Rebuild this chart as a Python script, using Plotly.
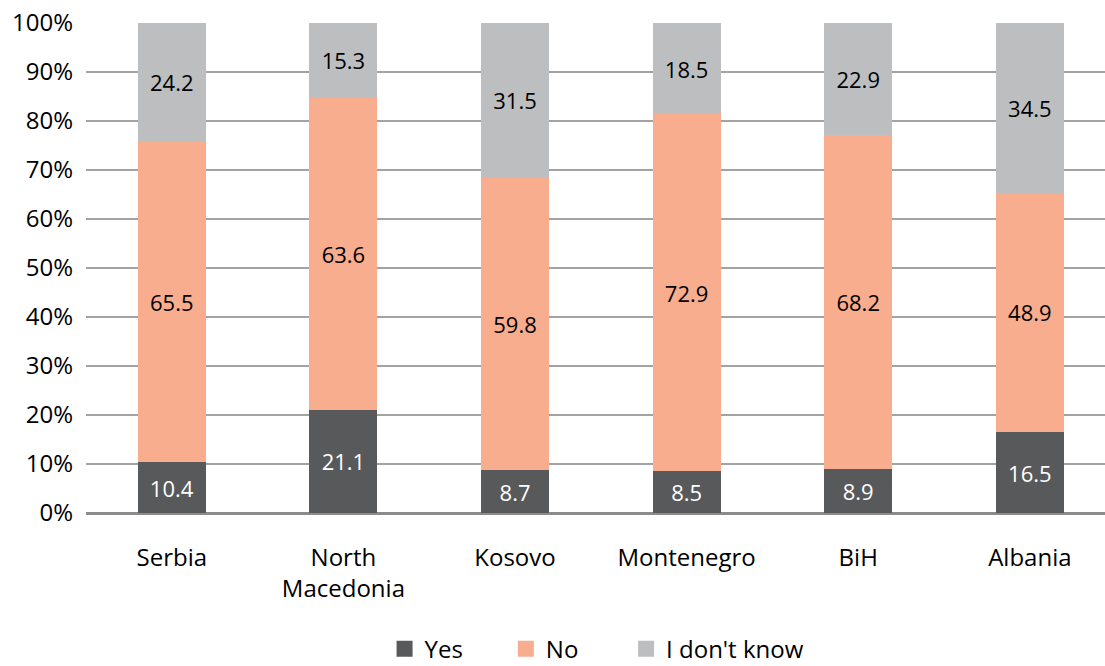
import plotly.graph_objects as go

countries = ["Serbia", "North<br>Macedonia", "Kosovo", "Montenegro", "BiH", "Albania"]
yes = [10.4, 21.1, 8.7, 8.5, 8.9, 16.5]
no = [65.5, 63.6, 59.8, 72.9, 68.2, 48.9]
dont_know = [24.2, 15.3, 31.5, 18.5, 22.9, 34.5]
y_ticks = [0, 10, 20, 30, 40, 50, 60, 70, 80, 90, 100]

FONT = "Open Sans"
FS = 24
FS_BAR = 22
series = [
    ("Yes", yes, "#58595b", "white"),
    ("No", no, "#f8ad8f", "black"),
    ("I don't know", dont_know, "#bcbec0", "black"),
]
legend_ids = ["legend", "legend2", "legend3"]
legend_x = [0.293, 0.412, 0.530]

fig = go.Figure()
for name, vals, color, tcolor in series:
    fig.add_trace(go.Bar(
        x=countries, y=vals, name=name, showlegend=False,
        marker=dict(color=color, line=dict(width=0)),
        width=0.396,
        text=[f"{v:.1f}" for v in vals],
        textposition="inside", insidetextanchor="middle",
        textfont=dict(family=FONT, size=FS_BAR, color=tcolor),
        textangle=0,
    ))
for (name, vals, color, tcolor), lid in zip(series, legend_ids):
    fig.add_trace(go.Scatter(
        x=[None], y=[None], mode="markers", name=name, legend=lid,
        marker=dict(symbol="square", size=23, color=color),
    ))

legend_common = dict(orientation="h", y=-0.278, yanchor="middle", xanchor="left",
                     font=dict(size=FS, family=FONT), bgcolor="rgba(0,0,0,0)",
                     borderwidth=0)

fig.update_layout(
    barmode="stack",
    width=1105, height=666,
    margin=dict(l=86, r=0, t=23, b=153, autoexpand=False),
    paper_bgcolor="white", plot_bgcolor="white",
    font=dict(family=FONT, size=FS, color="black"),
    uniformtext=dict(minsize=FS_BAR, mode="show"),
    legend=dict(x=legend_x[0], **legend_common),
    legend2=dict(x=legend_x[1], **legend_common),
    legend3=dict(x=legend_x[2], **legend_common),
    xaxis=dict(range=[-0.5, 5.438], showgrid=False, showline=False, ticks="",
               automargin=False, ticklabelstandoff=28, tickfont=dict(size=FS)),
    yaxis=dict(range=[0, 100], tickvals=y_ticks, ticktext=[f"{v}%" for v in y_ticks],
               showgrid=True, gridcolor="#a3a3a3", gridwidth=1.5,
               zeroline=True, zerolinecolor="#8c8c8c", zerolinewidth=2.5,
               showline=False, ticks="", automargin=False, ticklabelstandoff=12,
               tickfont=dict(size=FS)),
)

fig.write_html("out.html")
